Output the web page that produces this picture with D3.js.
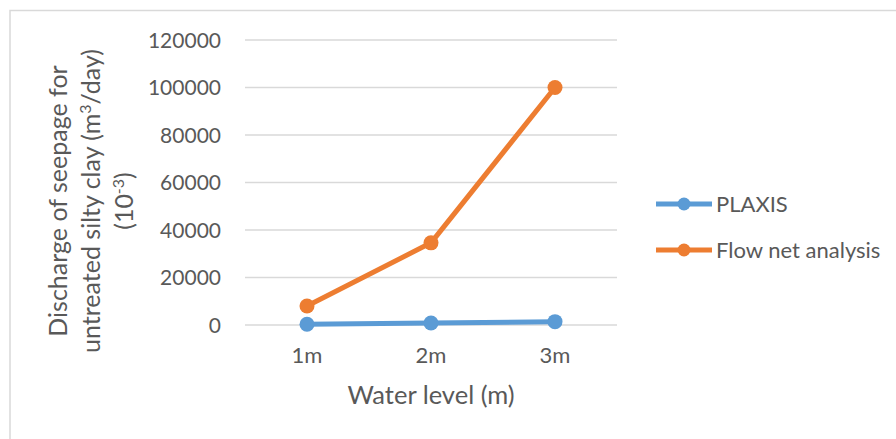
<!DOCTYPE html>
<html>
<head>
<meta charset="utf-8">
<script src="https://cdn.jsdelivr.net/npm/d3@7"></script>
<style>
  html, body { margin: 0; padding: 0; background: #fff; }
  svg { display: block; }
  text { font-family: Lato, "Open Sans", sans-serif; fill: #595959; }
</style>
</head>
<body>
<svg id="chart" width="896" height="439"></svg>
<script>
// Seepage discharge (x10^-3 m3/day) by water level
const categories = ["1m", "2m", "3m"];
const plaxis = [300, 850, 1400];
const flowNet = [8000, 34600, 100000];
const yTicks = [0, 20000, 40000, 60000, 80000, 100000, 120000];
const seriesNames = ["PLAXIS", "Flow net analysis"];
const seriesColors = ["#5B9BD5", "#ED7D31"];

const svg = d3.select("#chart");

// chart frame
svg.append("rect")
  .attr("x", 10).attr("y", 10.5)
  .attr("width", 900).attr("height", 440)
  .attr("fill", "none").attr("stroke", "#d9d9d9").attr("stroke-width", 1.5);

const x = d3.scaleBand().domain(categories).range([245, 617]);
const y = d3.scaleLinear().domain([0, 120000]).range([325, 40]);

// gridlines
svg.append("g")
  .selectAll("line")
  .data(yTicks)
  .join("line")
  .attr("x1", 245).attr("x2", 617)
  .attr("y1", d => y(d)).attr("y2", d => y(d))
  .attr("stroke", "#d9d9d9").attr("stroke-width", 1.5);

// y axis labels
const yAxis = d3.axisLeft(y).tickValues(yTicks).tickFormat(d3.format("d")).tickSize(0).tickPadding(0);
const gy = svg.append("g").attr("transform", "translate(221,0)").call(yAxis);
gy.select(".domain").remove();
gy.selectAll("text")
  .style("font-size", "21px").attr("dy", "0.35em").attr("fill", "#595959");

// x axis labels
const xAxis = d3.axisBottom(x).tickSize(0).tickPadding(0);
const gx = svg.append("g").attr("transform", "translate(0,347)").call(xAxis);
gx.select(".domain").remove();
gx.selectAll("text")
  .style("font-size", "22px").attr("dy", "0.71em").attr("fill", "#595959");

// axis titles
svg.append("text")
  .attr("x", 431).attr("y", 404)
  .attr("text-anchor", "middle")
  .style("font-size", "25.5px")
  .text("Water level (m)");

const yt = svg.append("text")
  .attr("transform", "translate(0,201) rotate(-90)")
  .attr("text-anchor", "middle")
  .style("font-size", "25px");
yt.append("tspan").attr("x", 0).attr("y", 67).text("Discharge of seepage for");
const l2 = yt.append("tspan").attr("x", 0).attr("y", 100);
l2.append("tspan").text("untreated silty clay (m");
l2.append("tspan").attr("dy", -9).style("font-size", "16px").text("3");
l2.append("tspan").attr("dy", 9).text("/day)");
const l3 = yt.append("tspan").attr("x", 0).attr("y", 133);
l3.append("tspan").text("(10");
l3.append("tspan").attr("dy", -9).style("font-size", "16px").text("-3");
l3.append("tspan").attr("dy", 9).text(")");

// series
const cx = d => x(d) + x.bandwidth() / 2;
const line = d3.line().x(d => cx(d[0])).y(d => y(d[1]));
[plaxis, flowNet].forEach((vals, i) => {
  const pts = categories.map((c, j) => [c, vals[j]]);
  svg.append("path")
    .datum(pts)
    .attr("d", line)
    .attr("fill", "none")
    .attr("stroke", seriesColors[i])
    .attr("stroke-width", 5)
    .attr("stroke-linejoin", "round");
  svg.append("g").selectAll("circle")
    .data(pts)
    .join("circle")
    .attr("cx", d => cx(d[0])).attr("cy", d => y(d[1]))
    .attr("r", 7.5)
    .attr("fill", seriesColors[i]);
});

// legend
const legend = svg.append("g");
seriesNames.forEach((name, i) => {
  const ly = 204 + i * 46;
  legend.append("line")
    .attr("x1", 656).attr("x2", 712).attr("y1", ly).attr("y2", ly)
    .attr("stroke", seriesColors[i]).attr("stroke-width", 5);
  legend.append("circle")
    .attr("cx", 684).attr("cy", ly).attr("r", 6.5)
    .attr("fill", seriesColors[i]);
  legend.append("text")
    .attr("x", 716).attr("y", ly).attr("dy", "0.35em")
    .style("font-size", "22px")
    .text(name);
});
</script>
</body>
</html>
